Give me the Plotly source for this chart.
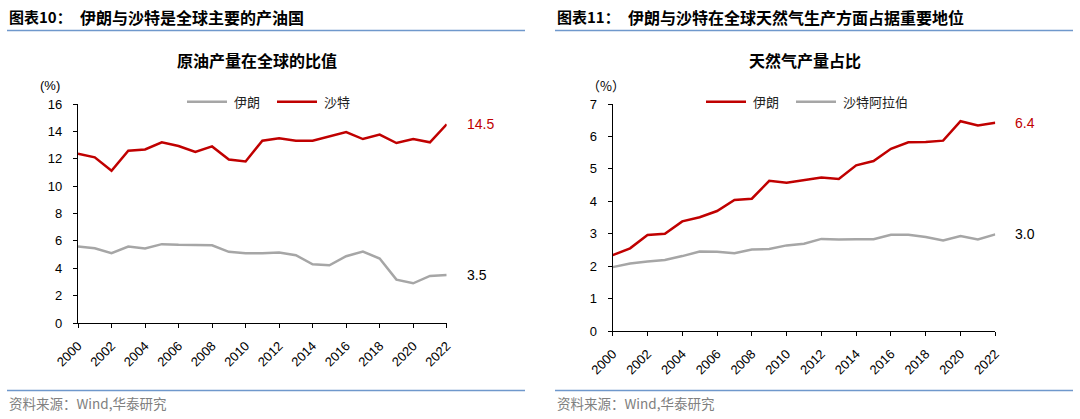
import plotly.graph_objects as go

years = list(range(2000, 2023))

# Left chart: crude oil production share of world (%)
oil_iran = [5.59, 5.46, 5.10, 5.59, 5.44, 5.76, 5.71, 5.68, 5.68, 5.20, 5.10, 5.10,
            5.15, 4.95, 4.29, 4.22, 4.88, 5.22, 4.71, 3.17, 2.90, 3.44, 3.51]
oil_saudi = [12.37, 12.10, 11.12, 12.59, 12.68, 13.20, 12.93, 12.49, 12.90, 11.95, 11.80, 13.32,
             13.50, 13.32, 13.32, 13.63, 13.95, 13.44, 13.76, 13.15, 13.44, 13.20, 14.52]

# Right chart: natural gas production share (%)
gas_iran = [2.34, 2.55, 2.96, 3.00, 3.38, 3.51, 3.70, 4.04, 4.08, 4.63, 4.57, 4.65,
            4.73, 4.69, 5.11, 5.24, 5.62, 5.82, 5.83, 5.87, 6.47, 6.34, 6.42]
gas_saudi = [1.97, 2.08, 2.14, 2.19, 2.31, 2.45, 2.44, 2.40, 2.51, 2.53, 2.64, 2.69,
             2.84, 2.82, 2.83, 2.83, 2.97, 2.97, 2.90, 2.79, 2.93, 2.82, 2.98]

tick_years = list(range(2000, 2023, 2))
tick_text = [str(y) for y in tick_years]

RED = "#c00000"
GRAY = "#a6a6a6"
BLUE = "#6f98cc"
CJK = "Noto Sans CJK SC"
LAT = "Liberation Sans, Arial"

W, H = 1080, 419
def px(x): return x / W
def py(y): return 1 - y / H

fig = go.Figure()
fig.add_trace(go.Scatter(x=years, y=oil_iran, name="伊朗", mode="lines",
                         line=dict(color=GRAY, width=2.5), xaxis="x", yaxis="y"))
fig.add_trace(go.Scatter(x=years, y=oil_saudi, name="沙特", mode="lines",
                         line=dict(color=RED, width=2.5), xaxis="x", yaxis="y"))
fig.add_trace(go.Scatter(x=years, y=gas_iran, name="伊朗", mode="lines",
                         line=dict(color=RED, width=2.5), xaxis="x2", yaxis="y2"))
fig.add_trace(go.Scatter(x=years, y=gas_saudi, name="沙特阿拉伯", mode="lines",
                         line=dict(color=GRAY, width=2.5), xaxis="x2", yaxis="y2"))

xcommon = dict(tickmode="array", tickvals=tick_years, ticktext=tick_text, tickangle=-45,
               showline=True, linecolor="black", linewidth=1.3, ticks="outside", ticklen=4,
               tickcolor="black", showgrid=False, zeroline=False, automargin=False,
               ticklabelstandoff=5,
               tickfont=dict(family=LAT, size=13, color="black"), fixedrange=True)
ycommon = dict(showline=True, linecolor="black", linewidth=1.3, ticks="outside", ticklen=4,
               tickcolor="black", showgrid=False, zeroline=False, automargin=False,
               ticklabelstandoff=8,
               tickfont=dict(family=LAT, size=13, color="black"), fixedrange=True)

fig.update_layout(
    width=W, height=H,
    margin=dict(l=0, r=0, t=0, b=0, autoexpand=False),
    paper_bgcolor="white", plot_bgcolor="white",
    xaxis=dict(domain=[px(78), px(446.7)], range=[2000, 2022], anchor="y", **xcommon),
    yaxis=dict(domain=[py(323), py(104)], range=[0, 16], dtick=2, anchor="x", **ycommon),
    xaxis2=dict(domain=[px(612.7), px(995.3)], range=[2000, 2022], anchor="y2", **xcommon),
    yaxis2=dict(domain=[py(331), py(104)], range=[0, 7], dtick=1, anchor="x2", **ycommon),
    showlegend=False,
)

shapes = []
for (x0, x1) in [(7, 525), (555, 1073)]:
    shapes.append(dict(type="line", xref="paper", yref="paper", x0=px(x0), x1=px(x1),
                       y0=py(30.5), y1=py(30.5), line=dict(color=BLUE, width=1.5)))
    shapes.append(dict(type="line", xref="paper", yref="paper", x0=px(x0), x1=px(x1),
                       y0=py(390.5), y1=py(390.5), line=dict(color=BLUE, width=1.5)))

ann = []
def text(x, y, s, size=13, color="black", family=CJK, xanchor="left", bold=False):
    if bold:
        s = "<b>" + s + "</b>"
    ann.append(dict(x=px(x), y=py(y), xref="paper", yref="paper", text=s, showarrow=False,
                    xanchor=xanchor, yanchor="middle", font=dict(family=family, size=size, color=color)))

# Legend keys (manual, to match 40px key lines)
legend_items = [
    (187, GRAY, "伊朗"), (277, RED, "沙特"),
    (706, RED, "伊朗"), (796, GRAY, "沙特阿拉伯"),
]
for x0, col, name in legend_items:
    shapes.append(dict(type="line", xref="paper", yref="paper", x0=px(x0), x1=px(x0 + 40),
                       y0=py(101.7), y1=py(101.7), line=dict(color=col, width=2.5)))
    text(x0 + 45, 102, name, size=13, color="#222")
fig.update_layout(shapes=shapes)

text(7, 17, "<b>图表10：</b>", size=15)
text(78, 17, "<b>伊朗与沙特是全球主要的产油国</b>", size=16)
text(555, 17, "<b>图表11：</b>", size=15)
text(626, 17, "<b>伊朗与沙特在全球天然气生产方面占据重要地位</b>", size=16)
text(257, 60, "原油产量在全球的比值", size=16, bold=True, xanchor="center")
text(805, 60, "天然气产量占比", size=16, bold=True, xanchor="center")
text(50, 85, "(%)", size=13, family=LAT, xanchor="center")
text(606, 85, "（%）", size=13, family=CJK, xanchor="center")
text(7, 403, "资料来源：Wind,华泰研究", size=13.5, color="#808080")
text(555, 403, "资料来源：Wind,华泰研究", size=13.5, color="#808080")
fig.update_layout(annotations=ann)

# End-value labels tied to data
fig.add_annotation(x=years[-1], y=oil_saudi[-1], xref="x", yref="y", text=f"{oil_saudi[-1]:.1f}",
                   showarrow=False, xanchor="left", xshift=18,
                   font=dict(family=LAT, size=14, color=RED))
fig.add_annotation(x=years[-1], y=oil_iran[-1], xref="x", yref="y", text=f"{oil_iran[-1]:.1f}",
                   showarrow=False, xanchor="left", xshift=18,
                   font=dict(family=LAT, size=14, color="black"))
fig.add_annotation(x=years[-1], y=gas_iran[-1], xref="x2", yref="y2", text=f"{gas_iran[-1]:.1f}",
                   showarrow=False, xanchor="left", xshift=18,
                   font=dict(family=LAT, size=14, color=RED))
fig.add_annotation(x=years[-1], y=gas_saudi[-1], xref="x2", yref="y2", text=f"{gas_saudi[-1]:.1f}",
                   showarrow=False, xanchor="left", xshift=18,
                   font=dict(family=LAT, size=14, color="black"))

fig.write_html("out.html", config={"displayModeBar": False},
               post_script="document.body.style.margin='0';document.body.style.overflow='hidden';")
